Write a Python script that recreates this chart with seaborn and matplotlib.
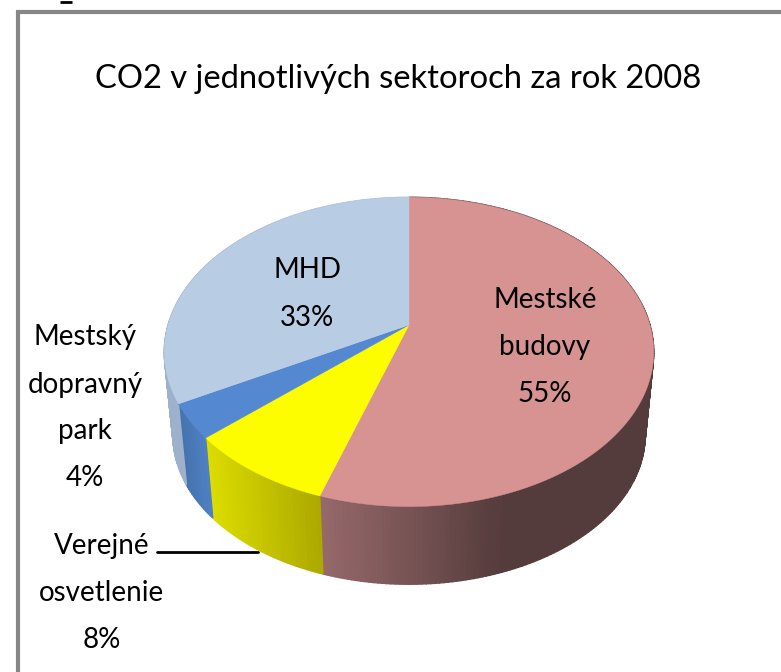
import numpy as np
import matplotlib
matplotlib.use('Agg')
import matplotlib.pyplot as plt
import seaborn as sns

# data
title = 'CO2 v jednotlivých sektoroch za rok 2008'
sektory = ['Mestské\nbudovy', 'Verejné\nosvetlenie', 'Mestský\ndopravný\npark', 'MHD']
podiely = [55, 8.4, 3.6, 33]

farby_hore = ['#d79292', '#fdfd00', '#5488d0', '#b8cce4']
farby_bok_1 = ['#96686a', '#dcdc00', '#5084c8', '#b4c4dc']
farby_bok_2 = ['#553c3c', '#aaa600', '#4673ae', '#9cb0cc']

sns.set_theme(style='white')
plt.rcParams['font.family'] = ['Lato', 'DejaVu Sans']

W, H = 781, 672
fig, ax = plt.subplots(figsize=(W / 100, H / 100), dpi=100)
ax.set_position([0, 0, 1, 1])
ax.set_xlim(0, W)
ax.set_ylim(H, 0)
ax.axis('off')

# ram grafu, vpravo a dole ide mimo obrazka
ax.plot([18, 18, W + 10], [H + 10, 12, 12], color='#868686', lw=3, solid_joinstyle='miter')
# zvysok orezaneho znaku nad grafom
ax.plot([60, 72], [1.5, 1.5], color='black', lw=2, solid_capstyle='butt')


# perspektiva: kruh -> elipsa, stred kolaca nie je v strede elipsy
def rim(theta, scale=1.0, shift=0.0):
    sx, sy = np.sin(theta), np.cos(theta)
    d = 1 + 0.174 * sy
    return 409 + scale * 241 * sx / d, 325 + shift - scale * 150 * sy / d


hranice = np.deg2rad(np.cumsum([0] + podiely) / sum(podiely) * 360)

# boky
for i in range(len(podiely)):
    uhly = np.linspace(hranice[i], hranice[i + 1], int(podiely[i] * 4) + 2)
    x1, y1 = rim(uhly)
    x2, y2 = rim(uhly, 0.965, 84)
    xs = np.r_[x1, x2]
    lo, hi = xs.min(), xs.max()
    if i == 0:
        # cerveny bok je tmavy uz od stredu
        lo, hi = 320, 500
    paleta = sns.blend_palette([farby_bok_1[i], farby_bok_2[i]], 40)
    for j in range(len(uhly) - 1):
        t = (0.5 * (x1[j] + x1[j + 1]) - lo) / max(hi - lo, 1)
        if i in (2, 3):
            t = 1 - t
        c = paleta[int(np.clip(t, 0, 1) * 39)]
        ax.fill([x1[j], x1[j + 1], x2[j + 1], x2[j]], [y1[j], y1[j + 1], y2[j + 1], y2[j]],
                color=c, lw=1, zorder=2)

# vrch
for i in range(len(podiely)):
    uhly = np.linspace(hranice[i], hranice[i + 1], int(podiely[i] * 4) + 2)
    x1, y1 = rim(uhly)
    ax.fill(np.r_[409, x1], np.r_[325, y1], color=farby_hore[i], lw=0.3, zorder=3)

# texty
ax.text(398, 79, title, fontsize=23.6, color='black', ha='center', va='center', zorder=5)

popisky = [f'{s}\n{p:.0f}%' for s, p in zip(sektory, podiely)]
pozicie = [(545, 347), (102, 593), (85, 408), (307, 294)]
for txt, (px, py) in zip(popisky, pozicie):
    ax.text(px, py, txt, fontsize=20, color='black', ha='center', va='center',
            linespacing=2.0, zorder=5)

# vodiaca ciara
ax.plot([157, 258], [552, 552], color='black', lw=2, zorder=1)

fig.savefig('out.png', dpi=100)
